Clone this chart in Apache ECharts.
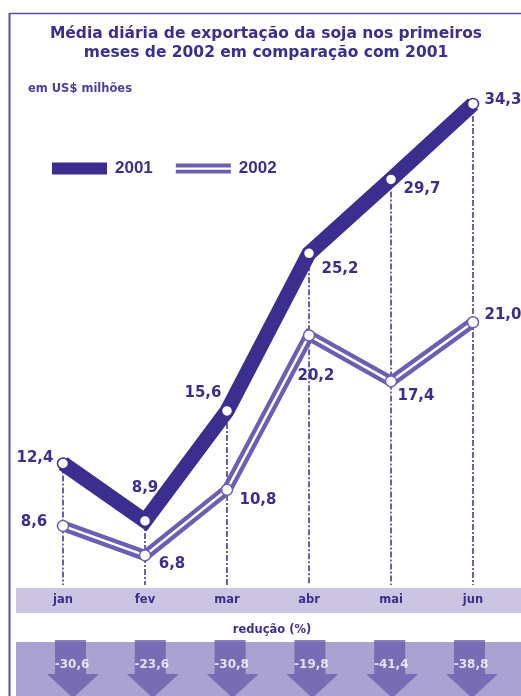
<!DOCTYPE html>
<html><head><meta charset="utf-8">
<script src="https://cdn.jsdelivr.net/npm/echarts@6/dist/echarts.min.js"></script>
<style>html,body{margin:0;padding:0;background:#fff}#c{width:521px;height:696px}</style>
</head><body><div id="c"></div>
<script>
const months = ['jan', 'fev', 'mar', 'abr', 'mai', 'jun'];
const exp2001 = [12.4, 8.9, 15.6, 25.2, 29.7, 34.3];
const exp2002 = [8.6, 6.8, 10.8, 20.2, 17.4, 21.0];
const reducao = [-30.6, -23.6, -30.8, -19.8, -41.4, -38.8];

// label placement (styles)
const off2001 = [[-28,-5],[0,-33],[-24,-18],[31,16],[31,10],[30,-4]];
const off2002 = [[-29,-4],[27,9],[31,10],[7,41],[25,15],[30,-7]];

const C_DARK = '#3b2e8e';
const C_2002 = '#6a5fb3';
const C_TEXT = '#3a2f8c';
const FONT = 'DejaVu Sans';
const fmt = v => v.toFixed(1).replace('.', ',');
const Y_MIN = 5;

const chart = echarts.init(document.getElementById('c'), null, {renderer: 'canvas'});
chart.setOption({
  animation: false,
  backgroundColor: '#fff',
  title: {
    text: 'Média diária de exportação da soja nos primeiros\nmeses de 2002 em comparação com 2001',
    left: 261, top: 20, textAlign: 'center',
    textStyle: {fontFamily: FONT, fontWeight: 'bold', fontSize: 15.5, lineHeight: 18.5, color: C_TEXT}
  },
  legend: {
    left: 47, top: 155,
    itemWidth: 55, itemHeight: 12, itemGap: 23,
    textStyle: {fontFamily: 'Liberation Sans', fontWeight: 'bold', fontSize: 17, color: C_TEXT, padding: [0,0,0,3]},
    data: [
      {name: '2001', icon: 'rect', itemStyle: {color: C_DARK, borderWidth: 0}},
      {name: '2002', icon: 'path://M0,0H55V4H0Z M0,6.2H55V10H0Z', itemStyle: {color: C_2002, borderWidth: 0}}
    ]
  },
  grid: [
    {left: 63, right: 48, top: 76, bottom: 111},
    {left: 73, right: 49, top: 668, height: 2}
  ],
  xAxis: [
    {type: 'category', gridIndex: 0, data: months, boundaryGap: false,
     axisLine: {show: false}, axisTick: {show: false}, splitLine: {show: false},
     axisLabel: {margin: 15, verticalAlign: 'middle', fontFamily: FONT, fontWeight: 'bold', fontSize: 11.5, color: C_TEXT}},
    {type: 'category', gridIndex: 1, data: months, boundaryGap: false, show: false}
  ],
  yAxis: [
    {type: 'value', gridIndex: 0, min: Y_MIN, max: 36, show: false},
    {type: 'value', gridIndex: 1, min: 0, max: 1, show: false}
  ],
  graphic: [
    {type: 'line', shape: {x1: 9.5, y1: 13, x2: 9.5, y2: 696}, style: {stroke: '#5a4fab', lineWidth: 2}, z: 0},
    {type: 'line', shape: {x1: 9, y1: 13.5, x2: 521, y2: 13.5}, style: {stroke: '#5a4fab', lineWidth: 1.5}, z: 0},
    {type: 'rect', shape: {x: 16, y: 588, width: 505, height: 25}, style: {fill: '#cbc5e3'}, z: 0},
    {type: 'rect', shape: {x: 16, y: 642, width: 505, height: 54}, style: {fill: '#aaa2d0'}, z: 0},
    {type: 'text', left: 28, top: 83, style: {text: 'em US$ milhões', fontFamily: FONT, fontWeight: 'bold', fontSize: 11.5, fill: '#4a3f9e'}, z: 5},
    {type: 'text', x: 272, y: 630, style: {text: 'redução (%)', align: 'center', verticalAlign: 'middle', fontFamily: FONT, fontWeight: 'bold', fontSize: 11.5, fill: C_TEXT}, z: 5}
  ],
  series: [
    {
      name: 'drops', type: 'line', data: exp2001, xAxisIndex: 0, yAxisIndex: 0,
      symbol: 'none', lineStyle: {opacity: 0}, z: 1, silent: true,
      markLine: {
        silent: true, symbol: 'none', label: {show: false}, z: 1,
        lineStyle: {color: C_DARK, width: 1.5, type: [6, 2, 2, 2], opacity: 1},
        data: exp2001.map((v, i) => [{coord: [i, v]}, {coord: [i, Y_MIN]}])
      }
    },
    {
      name: '2002', type: 'line', data: exp2002, symbol: 'none', z: 3,
      lineStyle: {color: C_2002, width: 11, join: 'miter'}
    },
    {
      name: '2002 inner', type: 'line', z: 4,
      data: exp2002.map((v, i) => ({value: v, label: {offset: off2002[i]}})),
      symbol: 'circle', symbolSize: 11,
      itemStyle: {color: '#fff', borderColor: C_2002, borderWidth: 1.5},
      lineStyle: {color: '#fff', width: 2.5, join: 'miter'},
      label: {show: true, position: 'inside', formatter: p => fmt(p.value),
        fontFamily: FONT, fontWeight: 'bold', fontSize: 15, color: C_TEXT, textBorderWidth: 0}
    },
    {
      name: '2001', type: 'line', z: 5,
      data: exp2001.map((v, i) => ({value: v, label: {offset: off2001[i]}})),
      symbol: 'circle', symbolSize: 11,
      itemStyle: {color: '#fff', borderColor: C_DARK, borderWidth: 1.5},
      lineStyle: {color: C_DARK, width: 15, join: 'miter'},
      label: {show: true, position: 'inside', formatter: p => fmt(p.value),
        fontFamily: FONT, fontWeight: 'bold', fontSize: 15, color: C_TEXT, textBorderWidth: 0}
    },
    {
      name: 'redução', type: 'scatter', xAxisIndex: 1, yAxisIndex: 1,
      data: reducao.map((v, i) => [i, 0.5, v]),
      symbol: 'path://M8,0L39,0L39,34L52,34L26,58L0,34L8,34Z',
      symbolSize: [52, 58], z: 3,
      itemStyle: {color: '#6c5fae'},
      label: {show: true, position: 'inside', offset: [-1, -4], formatter: p => fmt(p.value[2]),
        fontFamily: FONT, fontWeight: 'bold', fontSize: 12, color: '#fff', textBorderWidth: 0}
    }
  ]
});
</script></body></html>
